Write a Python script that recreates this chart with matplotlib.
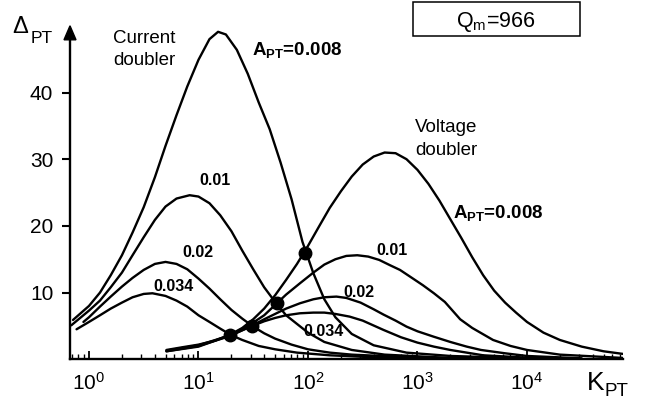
import matplotlib
matplotlib.use("Agg")
import matplotlib.pyplot as plt
from matplotlib.patches import Polygon, Rectangle

plt.rcParams["font.family"] = ["Liberation Sans", "DejaVu Sans"]
plt.rcParams["mathtext.fontset"] = "custom"
plt.rcParams["mathtext.rm"] = "Liberation Sans"
plt.rcParams["mathtext.it"] = "Liberation Sans:italic"
plt.rcParams["mathtext.bf"] = "Liberation Sans:bold"

# Current doubler curves (K_PT, Delta_PT)
cd_008_k = [0.715, 1.0, 1.26, 1.58, 2.0, 2.5, 3.16, 4.0, 5.0, 6.3, 7.9, 10, 12.6, 15.1, 17.8,
            22.4, 28.2, 35.5, 44.7, 56.2, 70.8, 89.1, 112, 141, 178, 251, 398, 794, 2000, 10000]
cd_008_d = [5.9, 8.0, 10.0, 12.6, 15.6, 19.0, 22.8, 27.3, 32.0, 36.6, 40.9, 44.9, 48.0, 49.1, 48.7,
            46.4, 42.8, 38.5, 34.5, 29.5, 24.0, 17.6, 12.9, 9.0, 6.3, 3.8, 2.1, 1.0, 0.5, 0.15]

cd_01_k = [0.69, 1.0, 1.26, 1.58, 2.0, 2.5, 3.16, 4.0, 5.0, 6.3, 8.3, 10, 12.6, 15.8, 20,
           25.1, 31.6, 39.8, 50.1, 63.1, 79.4, 100, 141, 251, 501, 2000, 10000]
cd_01_d = [5.1, 7.3, 8.8, 10.8, 13.0, 15.6, 18.3, 20.9, 22.9, 24.1, 24.6, 24.4, 23.4, 21.6, 19.2,
           16.3, 13.5, 10.8, 8.6, 6.6, 5.3, 4.0, 2.6, 1.4, 0.7, 0.2, 0.1]

cd_02_k = [0.89, 1.0, 1.26, 1.58, 2.0, 2.5, 3.16, 4.0, 5.0, 6.3, 7.9, 10, 12.6, 15.8, 20,
           25.1, 31.6, 39.8, 50.1, 70.8, 100, 158, 251, 1000, 10000]
cd_02_d = [5.6, 6.3, 7.9, 9.4, 10.9, 12.2, 13.4, 14.3, 14.6, 14.3, 13.5, 12.1, 10.6, 9.0, 7.4,
           6.1, 4.9, 3.9, 3.1, 2.2, 1.5, 1.0, 0.7, 0.25, 0.08]

cd_034_k = [0.77, 1.0, 1.26, 1.58, 2.0, 2.5, 3.16, 3.8, 5.0, 6.3, 7.9, 10, 12.6, 15.8, 20,
            25.1, 35.5, 50.1, 79.4, 158, 398, 1000, 10000]
cd_034_d = [4.5, 5.6, 6.6, 7.6, 8.5, 9.3, 9.8, 9.9, 9.5, 8.8, 7.9, 6.6, 5.6, 4.6, 3.6,
            2.9, 2.0, 1.5, 1.0, 0.6, 0.3, 0.15, 0.05]

# Voltage doubler curves
vd_008_k = [5.1, 7.08, 10, 14.1, 19.5, 25.1, 31.6, 39.8, 50.1, 63.1, 79.4, 100, 126, 158, 200,
            251, 316, 398, 501, 631, 794, 1000, 1259, 1585, 1995, 2512, 3162, 3981, 5012,
            6310, 7943, 10000, 14125, 19953, 31623, 50119, 75858]
vd_008_d = [1.4, 1.8, 2.2, 2.8, 3.7, 4.7, 6.0, 7.6, 9.6, 11.9, 14.3, 17.0, 19.9, 22.7, 25.2,
            27.4, 29.2, 30.4, 31.0, 30.9, 30.0, 28.4, 26.3, 23.8, 21.0, 18.2, 15.3, 12.6, 10.3,
            8.5, 7.0, 5.6, 4.0, 2.9, 1.9, 1.2, 0.8]

vd_01_k = [5.1, 10, 19.5, 30.2, 39.8, 52, 63.1, 84.5, 112, 141, 178, 224, 282, 355, 447, 562,
           692, 891, 1122, 1413, 1778, 2455, 3162, 4898, 7079, 10000, 19953, 75858]
vd_01_d = [1.3, 2.1, 3.6, 5.3, 6.6, 8.4, 9.7, 11.4, 13.0, 14.2, 15.0, 15.5, 15.6, 15.4, 14.9, 14.1,
           13.4, 12.2, 11.1, 9.9, 8.6, 6.0, 4.7, 2.9, 2.0, 1.4, 0.7, 0.2]

vd_02_k = [5.1, 10, 19.5, 30.5, 39.8, 50.1, 63.1, 84.5, 112, 141, 182, 224, 302, 398, 490,
           631, 794, 1000, 1400, 1995, 2818, 3802, 6310, 10000, 31623]
vd_02_d = [1.2, 2.0, 3.5, 5.0, 6.0, 6.8, 7.6, 8.4, 9.0, 9.3, 9.4, 9.2, 8.5, 7.5, 6.7,
           5.8, 4.9, 4.2, 3.4, 2.6, 1.9, 1.4, 0.9, 0.5, 0.15]

vd_034_k = [5.1, 10, 19.5, 30, 39.8, 50.1, 63.1, 84.5, 112, 141, 178, 240, 316, 490, 708,
            1000, 1413, 1995, 3981, 10000, 19953]
vd_034_d = [1.2, 1.9, 3.6, 4.9, 5.7, 6.2, 6.6, 6.9, 7.0, 7.0, 6.8, 6.4, 5.8, 4.4, 3.3,
            2.5, 1.9, 1.4, 0.6, 0.25, 0.1]

# crossing points of current and voltage doubler curves
dot_k = [94.0, 52.0, 30.5, 19.4]
dot_d = [16.0, 8.4, 5.0, 3.6]

W, H = 647, 403
fig = plt.figure(figsize=(W / 100, H / 100), dpi=100)
ax = fig.add_axes([70 / W, (H - 359.3) / H, 553 / W, 333.5 / H])

curves = [(cd_008_k, cd_008_d), (cd_01_k, cd_01_d), (cd_02_k, cd_02_d), (cd_034_k, cd_034_d),
          (vd_008_k, vd_008_d), (vd_01_k, vd_01_d), (vd_02_k, vd_02_d), (vd_034_k, vd_034_d)]
for k, d in curves:
    ax.plot(k, d, color="black", lw=1.7, solid_joinstyle="round", solid_capstyle="round")
ax.plot(dot_k, dot_d, "o", color="black", ms=9, zorder=5)

ax.set_xscale("log")
ax.set_xlim(0.671, 75300)
ax.set_ylim(0, 50)
ax.set_yticks([10, 20, 30, 40])
ax.set_xticks([1, 10, 100, 1000, 10000])

for s in ["top", "right"]:
    ax.spines[s].set_visible(False)
ax.spines["left"].set_linewidth(1.7)
ax.spines["bottom"].set_linewidth(1.7)
ax.spines["left"].set_bounds(0, 48.2)

ax.tick_params(axis="y", direction="out", length=6, width=1.5, labelsize=15, pad=6)
ax.tick_params(axis="x", which="major", direction="in", length=6, width=1.3, labelsize=15, pad=9)
ax.tick_params(axis="x", which="minor", direction="in", length=3.5, width=1.0)

# arrow head on the y axis
aw, ah = 553.0, 333.5
ax.add_patch(Polygon([(-6 / aw, 1 - 14 / ah), (6 / aw, 1 - 14 / ah), (0, 1)],
                     closed=True, color="black", transform=ax.transAxes, clip_on=False))


def px(x, y):
    return x / W, 1 - y / H


fig.text(*px(12, 33), "Δ", fontsize=17, ha="left", va="baseline")
fig.text(*px(31, 43), "PT", fontsize=12.5, ha="left", va="baseline")
fig.text(*px(587, 390), "K", fontsize=19, ha="left", va="baseline")
fig.text(*px(604, 396), "PT", fontsize=13.5, ha="left", va="baseline")

fig.text(*px(113, 43), "Current", fontsize=13.5, ha="left", va="baseline")
fig.text(*px(113, 65), "doubler", fontsize=13.5, ha="left", va="baseline")
fig.text(*px(415, 132), "Voltage", fontsize=13.5, ha="left", va="baseline")
fig.text(*px(415, 155), "doubler", fontsize=13.5, ha="left", va="baseline")

fig.text(*px(252, 55), r"A$_{\mathbf{PT}}$=0.008", fontsize=13.5, fontweight="bold",
         ha="left", va="baseline")
fig.text(*px(453, 218), r"A$_{\mathbf{PT}}$=0.008", fontsize=13.5, fontweight="bold",
         ha="left", va="baseline")

bold = dict(fontsize=11.5, fontweight="bold", ha="center", va="baseline")
fig.text(*px(215, 185), "0.01", **bold)
fig.text(*px(198, 257), "0.02", **bold)
fig.text(*px(173, 291), "0.034", **bold)
fig.text(*px(392, 255), "0.01", **bold)
fig.text(*px(359, 297), "0.02", **bold)
fig.text(*px(323, 336), "0.034", **bold)

fig.add_artist(Rectangle(px(413, 36), 167 / W, 34 / H, transform=fig.transFigure,
                         fill=False, edgecolor="black", lw=1.1))
fig.text(*px(496, 27), r"Q$_{\rm m}$=966", fontsize=15.5, ha="center", va="baseline")

fig.savefig("out.png", dpi=100)
